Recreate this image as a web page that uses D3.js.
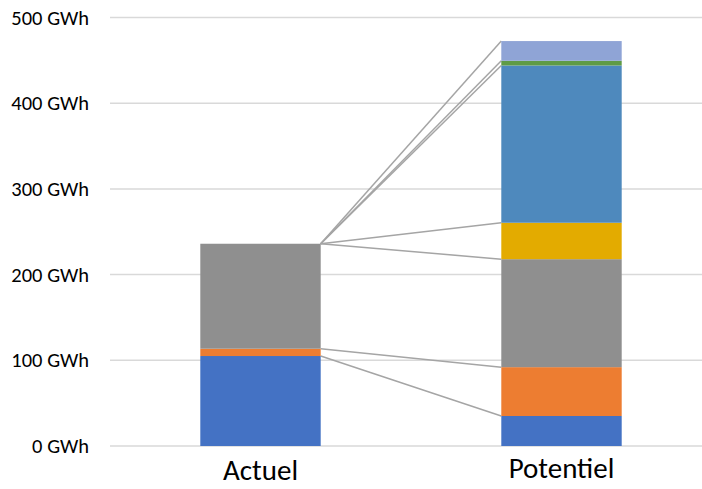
<!DOCTYPE html>
<html>
<head>
<meta charset="utf-8">
<script src="https://cdn.jsdelivr.net/npm/d3@7"></script>
<style>
  html, body { margin: 0; padding: 0; background: #fff; }
  svg { display: block; }
  text { font-family: Calibri, Carlito, Lato, "Open Sans", sans-serif; fill: #000; }
</style>
</head>
<body>
<svg id="chart" width="702" height="489"></svg>
<script>
// Stacked energy production (GWh), one column per scenario
const categories = ["Actuel", "Potentiel"];
const seriesKeys = ["s1", "s2", "s3", "s4", "s5", "s6", "s7"];
const seriesColors = ["#4472c4", "#ed7d31", "#8f8f8f", "#e3ab00", "#4e89bd", "#5f9b45", "#8fa4d6"];
const actuelValues = [105, 8.5, 122.5, 0, 0, 0, 0];
const potentielValues = [35, 57, 126, 42.5, 183.5, 5.5, 23];
const yTicks = [0, 100, 200, 300, 400, 500];

const rows = [actuelValues, potentielValues].map((vals, i) => {
  const r = { cat: categories[i] };
  seriesKeys.forEach((k, j) => r[k] = vals[j]);
  return r;
});

const svg = d3.select("#chart");
const x = d3.scaleBand().domain(categories).range([110, 712]);
const y = d3.scaleLinear().domain([0, 500]).range([446, 17.5]);
const barW = x.bandwidth() * 0.4;

// gridlines
svg.append("g").selectAll("line").data(yTicks).join("line")
  .attr("x1", 110).attr("x2", 712)
  .attr("y1", d => y(d)).attr("y2", d => y(d))
  .attr("stroke", "#d9d9d9").attr("stroke-width", 1.5);

// tick labels
svg.append("g").selectAll("text").data(yTicks).join("text")
  .attr("x", 89).attr("y", d => y(d)).attr("dy", "0.35em")
  .attr("text-anchor", "end").attr("font-size", 20.5)
  .text(d => d + " GWh");

const stack = d3.stack().keys(seriesKeys)(rows);

// series lines joining segment tops between the columns
svg.append("g").selectAll("line").data(stack).join("line")
  .attr("x1", x(categories[0]) + x.bandwidth() / 2 + barW / 2)
  .attr("x2", x(categories[1]) + x.bandwidth() / 2 - barW / 2)
  .attr("y1", d => y(d[0][1]))
  .attr("y2", d => y(d[1][1]))
  .attr("stroke", "#a5a5a5").attr("stroke-width", 1.5);

// bars
svg.append("g").selectAll("g").data(stack).join("g")
  .attr("fill", (d, i) => seriesColors[i])
  .selectAll("rect").data(d => d).join("rect")
  .attr("x", d => x(d.data.cat) + x.bandwidth() / 2 - barW / 2)
  .attr("width", barW)
  .attr("y", d => y(d[1]))
  .attr("height", d => Math.max(0, y(d[0]) - y(d[1])));

// category labels
svg.append("g").selectAll("text").data(categories).join("text")
  .attr("x", d => x(d) + x.bandwidth() / 2)
  .attr("y", (d, i) => i === 0 ? 480 : 478)
  .attr("text-anchor", "middle").attr("font-size", 29)
  .text(d => d);
</script>
</body>
</html>
